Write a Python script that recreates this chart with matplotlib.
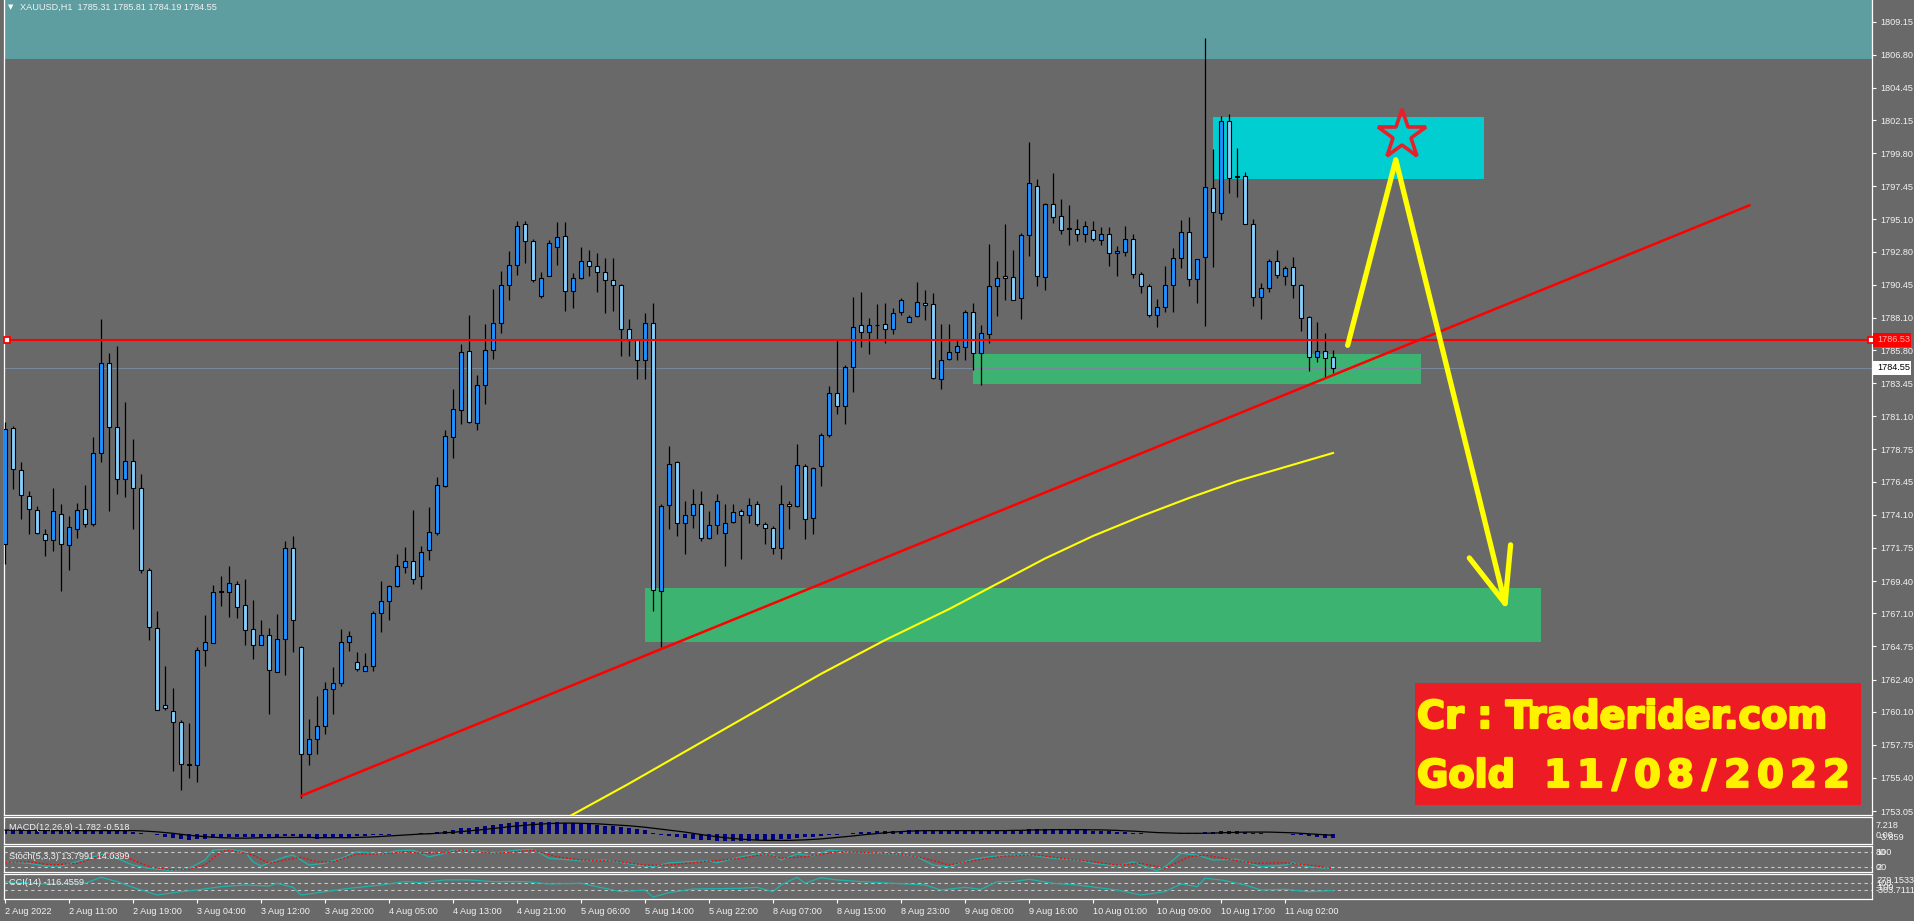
import numpy as np
import matplotlib
matplotlib.use("Agg")
import matplotlib.pyplot as plt
import matplotlib.patheffects as pe
from matplotlib.patches import Rectangle

plt.rcParams["font.family"] = ["Liberation Sans", "DejaVu Sans"]

W, H = 1914, 921
BG = "#696969"

# XAUUSD H1 candles (bar 0 = first visible bar)
opens = [1772.05, 1780.27, 1777.29, 1775.41, 1774.43, 1772.72, 1772.29, 1774.19, 1771.93, 1773.07,
         1774.50, 1773.48, 1778.50, 1784.93, 1780.34, 1776.65, 1777.91, 1776.00, 1770.19, 1766.05,
         1760.58, 1760.19, 1759.38, 1756.36, 1756.29, 1764.50, 1764.98, 1768.62, 1768.65, 1769.22,
         1767.72, 1766.00, 1764.86, 1765.57, 1762.95, 1765.29, 1771.72, 1764.69, 1757.08, 1758.15,
         1759.10, 1761.72, 1762.12, 1765.10, 1763.62, 1763.00, 1763.38, 1767.12, 1767.96, 1769.07,
         1770.43, 1770.81, 1769.79, 1771.57, 1772.84, 1776.17, 1779.67, 1781.53, 1785.72, 1780.62,
         1783.36, 1785.79, 1787.72, 1790.43, 1791.84, 1794.79, 1793.58, 1789.65, 1791.08, 1793.15,
         1793.93, 1790.00, 1790.93, 1792.15, 1791.79, 1791.36, 1790.79, 1790.41, 1787.34, 1786.53,
         1785.10, 1787.76, 1768.67, 1774.79, 1777.84, 1773.50, 1774.07, 1774.86, 1772.48, 1773.36,
         1772.79, 1773.62, 1774.38, 1774.07, 1774.86, 1773.43, 1773.15, 1771.72, 1774.86, 1774.74,
         1777.55, 1773.86, 1777.60, 1779.79, 1782.76, 1781.81, 1784.62, 1787.57, 1787.12, 1787.57,
         1787.67, 1787.29, 1788.50, 1787.79, 1788.24, 1789.14, 1789.10, 1783.79, 1785.17, 1785.65,
         1786.00, 1788.55, 1785.60, 1786.93, 1790.34, 1791.10, 1791.00, 1789.50, 1793.96, 1797.48,
         1791.00, 1796.20, 1795.34, 1794.48, 1794.43, 1794.03, 1794.33, 1793.67, 1794.07, 1792.72,
         1792.81, 1793.72, 1791.24, 1790.38, 1788.29, 1788.91, 1790.41, 1792.36, 1794.22, 1790.86,
         1792.43, 1797.32, 1795.54, 1802.08, 1798.20, 1798.20, 1794.79, 1789.58, 1790.20, 1792.15,
         1791.08, 1791.72, 1790.43, 1788.15, 1785.29, 1785.72, 1785.31]
highs = [1780.70, 1780.40, 1777.84, 1775.81, 1774.74, 1773.07, 1776.00, 1774.86, 1774.03, 1774.98,
         1776.24, 1779.67, 1788.03, 1785.62, 1786.10, 1782.10, 1779.50, 1777.00, 1770.30, 1767.24,
         1763.38, 1761.81, 1759.50, 1759.33, 1764.69, 1767.00, 1769.15, 1769.74, 1770.46, 1769.40,
         1769.57, 1768.07, 1766.65, 1766.05, 1767.07, 1772.24, 1772.60, 1764.80, 1759.62, 1761.24,
         1762.19, 1763.31, 1766.00, 1765.86, 1764.38, 1764.27, 1767.29, 1769.38, 1769.15, 1771.34,
         1771.81, 1774.48, 1771.88, 1774.67, 1776.76, 1780.10, 1783.03, 1786.22, 1788.31, 1784.03,
         1787.67, 1790.17, 1791.46, 1792.89, 1794.96, 1794.96, 1793.72, 1791.38, 1793.62, 1794.89,
         1794.89, 1791.29, 1793.15, 1792.96, 1792.72, 1792.38, 1792.38, 1790.50, 1788.00, 1786.60,
         1788.43, 1789.15, 1774.86, 1779.03, 1777.95, 1775.10, 1775.93, 1775.81, 1774.40, 1775.57,
         1774.86, 1774.86, 1774.50, 1775.33, 1775.10, 1773.60, 1773.31, 1776.24, 1775.10, 1779.15,
         1777.70, 1777.48, 1779.90, 1783.24, 1786.50, 1784.74, 1789.62, 1789.95, 1788.07, 1789.10,
         1789.19, 1788.79, 1789.55, 1788.31, 1790.64, 1790.05, 1789.90, 1787.67, 1787.67, 1786.53,
         1788.67, 1789.15, 1787.60, 1793.38, 1792.17, 1794.74, 1792.95, 1794.10, 1800.57, 1798.00,
         1796.30, 1798.38, 1796.57, 1796.10, 1795.14, 1794.98, 1794.98, 1794.55, 1794.55, 1793.24,
         1794.62, 1794.07, 1791.33, 1790.50, 1789.43, 1791.81, 1793.07, 1795.05, 1795.29, 1792.30,
         1808.00, 1800.07, 1802.42, 1802.58, 1800.17, 1798.50, 1795.15, 1790.58, 1792.31, 1792.96,
         1791.77, 1792.43, 1790.50, 1788.24, 1787.81, 1787.03, 1785.81]
lows = [1770.62, 1775.93, 1773.84, 1772.72, 1772.72, 1771.17, 1771.53, 1768.67, 1770.17, 1772.43,
        1773.24, 1773.29, 1777.84, 1774.38, 1775.57, 1775.34, 1773.07, 1769.98, 1765.22, 1760.22,
        1760.22, 1755.93, 1754.58, 1755.41, 1755.15, 1763.38, 1764.98, 1767.60, 1766.81, 1766.77,
        1764.86, 1763.84, 1764.86, 1759.98, 1762.95, 1762.72, 1764.34, 1753.98, 1756.29, 1757.12,
        1758.55, 1759.98, 1761.96, 1764.43, 1763.00, 1763.00, 1763.00, 1765.77, 1766.62, 1768.96,
        1769.98, 1769.19, 1768.84, 1770.88, 1772.65, 1776.05, 1778.12, 1780.58, 1780.62, 1780.10,
        1781.96, 1785.17, 1787.05, 1789.34, 1791.12, 1792.00, 1790.62, 1789.55, 1791.08, 1791.84,
        1788.60, 1788.77, 1790.86, 1791.05, 1789.91, 1788.48, 1788.60, 1785.38, 1785.38, 1783.79,
        1783.79, 1767.24, 1764.69, 1773.07, 1772.60, 1771.34, 1773.19, 1772.24, 1772.36, 1772.72,
        1770.45, 1773.55, 1770.93, 1773.55, 1773.31, 1772.00, 1771.29, 1771.00, 1773.08, 1774.67,
        1772.36, 1772.76, 1776.17, 1779.62, 1781.29, 1780.57, 1782.84, 1786.05, 1785.55, 1786.53,
        1786.33, 1786.93, 1788.31, 1787.79, 1788.19, 1787.95, 1783.79, 1783.05, 1785.10, 1785.12,
        1785.14, 1784.43, 1783.31, 1786.33, 1788.24, 1789.38, 1789.38, 1788.00, 1792.53, 1790.34,
        1790.10, 1794.86, 1794.03, 1793.26, 1793.55, 1793.48, 1793.60, 1793.31, 1791.76, 1791.10,
        1792.48, 1790.93, 1789.86, 1788.20, 1787.48, 1788.55, 1788.50, 1791.64, 1790.38, 1789.14,
        1787.52, 1791.69, 1795.04, 1796.98, 1796.70, 1794.75, 1788.98, 1788.05, 1789.91, 1790.91,
        1790.41, 1789.48, 1787.20, 1784.34, 1784.98, 1783.86, 1784.19]
closes = [1780.22, 1777.36, 1775.50, 1774.50, 1772.79, 1772.29, 1774.36, 1772.00, 1773.24, 1774.43,
          1773.48, 1778.48, 1784.93, 1780.34, 1776.65, 1777.91, 1776.00, 1770.15, 1766.12, 1760.26,
          1760.34, 1759.38, 1756.36, 1756.31, 1764.50, 1765.05, 1768.62, 1768.67, 1769.29, 1767.55,
          1765.93, 1764.86, 1765.57, 1763.07, 1765.29, 1771.72, 1766.65, 1757.08, 1758.15, 1759.07,
          1761.72, 1762.12, 1765.05, 1765.50, 1763.15, 1763.38, 1767.12, 1768.00, 1769.07, 1770.50,
          1770.81, 1769.57, 1771.48, 1772.90, 1776.22, 1779.72, 1781.62, 1785.65, 1780.69, 1783.36,
          1785.79, 1787.72, 1790.43, 1791.84, 1794.65, 1793.60, 1790.79, 1790.93, 1793.43, 1793.86,
          1790.00, 1790.93, 1792.15, 1791.79, 1791.36, 1790.79, 1790.41, 1787.29, 1786.53, 1785.10,
          1787.76, 1768.79, 1774.74, 1777.71, 1773.50, 1774.07, 1774.86, 1772.48, 1773.36, 1775.10,
          1773.55, 1774.33, 1774.07, 1774.81, 1773.43, 1773.15, 1771.76, 1774.90, 1774.74, 1777.64,
          1773.79, 1777.41, 1779.79, 1782.76, 1781.81, 1784.62, 1787.43, 1787.12, 1787.57, 1787.60,
          1787.29, 1788.48, 1789.38, 1788.19, 1789.22, 1789.02, 1783.86, 1785.14, 1785.65, 1786.10,
          1788.50, 1785.60, 1787.00, 1790.34, 1790.93, 1790.93, 1789.38, 1793.96, 1797.72, 1791.05,
          1796.20, 1795.29, 1794.38, 1794.41, 1794.03, 1794.62, 1793.74, 1794.07, 1792.72, 1792.84,
          1793.72, 1791.24, 1790.38, 1788.29, 1788.91, 1790.41, 1792.36, 1794.22, 1790.86, 1792.29,
          1797.43, 1795.64, 1802.08, 1798.06, 1798.10, 1794.77, 1789.58, 1790.20, 1792.15, 1791.15,
          1791.65, 1790.43, 1788.08, 1785.29, 1785.72, 1785.22, 1784.55]

# moving average (yellow)
ma_bars = [68, 70, 78, 86, 94, 102, 110, 118, 124, 130, 136, 142, 148, 154, 160, 166]
ma_vals = [1751.9, 1752.5, 1755.0, 1757.6, 1760.2, 1762.8, 1765.2, 1767.4, 1769.2, 1771.0,
           1772.6, 1774.0, 1775.3, 1776.5, 1777.5, 1778.5]

# MACD(12,26,9): main (histogram) and signal
macd_main = [1.8, 1.7, 1.6, 1.5, 1.4, 1.3, 1.3, 1.2, 1.2, 1.2, 1.2, 1.3, 1.6, 1.6, 1.4, 1.3,
             1.0, 0.5, -0.1, -0.6, -1.1, -1.6, -2.1, -2.5, -2.2,
             -2.0, -1.7, -1.5, -1.3, -1.2, -1.2, -1.3, -1.4, -1.5, -1.4, -1.0, -1.0,
             -1.5, -1.8, -1.9, -1.8, -1.6, -1.3, -1.1, -1.0, -0.9, -0.6,
             -0.4, -0.2, 0.0, 0.1, 0.2, 0.3, 0.5, 0.9, 1.4, 1.8,
             2.3, 2.6, 2.9, 3.3, 3.7, 4.1, 4.5, 4.9, 5.1, 5.1,
             5.0, 5.0, 4.9, 4.7, 4.5, 4.3, 4.0, 3.7, 3.4, 3.1,
             2.8, 2.4, 2.0, 1.8, 0.6, -0.2, -0.8, -1.3, -1.8, -2.1,
             -2.4, -2.6, -2.7, -2.8, -2.8, -2.8, -2.7, -2.6, -2.5, -2.4,
             -2.2, -2.0, -1.6, -1.4, -1.2, -0.8, -0.5, -0.2, 0.1, 0.4,
             0.7, 0.9, 1.1, 1.2, 1.3, 1.4, 1.5, 1.6, 1.6, 1.3,
             1.3, 1.3, 1.3, 1.4, 1.3, 1.3, 1.5, 1.6, 1.6, 1.5,
             1.7, 2.1, 1.9, 2.0, 2.0, 1.9, 1.8, 1.7, 1.6, 1.4,
             1.3, 1.1, 0.9, 0.8, 0.6, 0.4, 0.2, 0.0, 0.0, 0.2,
             0.4, 0.3, 0.4, 0.8, 0.9, 1.3, 1.3, 1.2, 1.0, 0.6,
             0.3, 0.2, 0.1, 0.0, -0.2, -0.5, -0.9, -1.2, -1.5, -1.782]
macd_signal = [1.6, 1.6, 1.6, 1.5, 1.5, 1.5, 1.4, 1.4, 1.4, 1.4, 1.4, 1.4, 1.4, 1.4, 1.4, 1.4,
               1.4, 1.3, 1.1, 0.9, 0.6, 0.3, -0.1, -0.5, -0.8, -1.1,
               -1.3, -1.5, -1.6, -1.7, -1.7, -1.6, -1.5, -1.5, -1.4, -1.4,
               -1.4, -1.4, -1.4, -1.5, -1.5, -1.5, -1.5, -1.5, -1.4, -1.3,
               -1.2, -1.0, -0.8, -0.6, -0.4, -0.2, 0.0, 0.1, 0.3, 0.5,
               0.7, 1.0, 1.3, 1.6, 1.9, 2.3, 2.6, 3.0, 3.3, 3.6,
               3.9, 4.1, 4.3, 4.4, 4.5, 4.5, 4.4, 4.3, 4.2, 4.0,
               3.8, 3.6, 3.4, 3.1, 2.8, 2.4, 2.0, 1.6, 1.2, 0.8,
               0.3, -0.2, -0.7, -1.1, -1.5, -1.8, -2.1, -2.3, -2.5, -2.6,
               -2.6, -2.6, -2.6, -2.5, -2.4, -2.2, -2.0, -1.7, -1.4, -1.1,
               -0.8, -0.4, -0.1, 0.2, 0.5, 0.8, 1.0, 1.2, 1.3, 1.4,
               1.4, 1.4, 1.4, 1.4, 1.4, 1.4, 1.4, 1.4, 1.4, 1.4,
               1.5, 1.5, 1.6, 1.7, 1.7, 1.8, 1.8, 1.8, 1.8, 1.8,
               1.7, 1.7, 1.6, 1.5, 1.3, 1.2, 1.0, 0.8, 0.6, 0.5,
               0.4, 0.3, 0.3, 0.3, 0.3, 0.4, 0.5, 0.6, 0.7, 0.8,
               0.8, 0.8, 0.8, 0.7, 0.6, 0.5, 0.3, 0.1, -0.1, -0.3, -0.518]

# Stochastic(5,3,3)
stoch_k_bars = [0, 3, 5, 7, 9, 11, 13, 14, 16, 18, 21, 23, 25, 26, 28, 30, 31, 32, 35, 36, 38, 40, 42, 44,
                47, 49, 51, 53, 55, 56, 59, 61, 64, 66, 68, 72, 75, 79, 81, 83, 85, 88, 89, 92, 94, 96,
                97, 99, 101, 103, 106, 109, 112, 114, 116, 118, 121, 123, 125, 128, 131, 134, 136, 139,
                141, 142, 144, 145, 147, 149, 151, 154, 157, 160, 161, 163, 166]
stoch_k_vals = [42, 36, 25, 25, 42, 62, 76, 56, 29, 16, 6, 16, 49, 89, 92, 82, 42, 25, 62, 69, 29, 36, 56, 82,
                73, 86, 89, 62, 76, 89, 86, 76, 89, 92, 56, 46, 49, 29, 22, 38, 42, 46, 38, 62, 73, 69,
                49, 73, 65, 89, 80, 76, 72, 62, 29, 22, 52, 62, 68, 69, 56, 49, 36, 25,
                42, 29, 6, 22, 76, 69, 49, 52, 22, 29, 38, 22, 13.8]
stoch_d_bars = [0, 3, 6, 9, 12, 14, 16, 18, 21, 23, 25, 27, 28, 31, 33, 35, 37, 39, 41, 44, 47, 50, 52, 55,
                57, 61, 64, 66, 69, 72, 76, 80, 83, 87, 92, 95, 97, 100, 104, 107, 112, 115, 118, 122,
                125, 129, 132, 135, 139, 142, 145, 148, 150, 153, 156, 160, 164, 166]
stoch_d_vals = [40, 42, 29, 36, 65, 76, 49, 22, 9, 13, 29, 82, 89, 69, 36, 49, 60, 42, 42, 73, 73, 82, 76, 78,
                89, 76, 82, 89, 62, 49, 45, 29, 29, 42, 56, 73, 56, 62, 82, 80, 73, 56, 29, 52,
                65, 69, 56, 46, 29, 36, 16, 62, 69, 52, 36, 38, 25, 14.0]

# CCI(14)
cci_bars = [0, 5, 10, 12, 14, 16, 19, 22, 24, 27, 30, 33, 34, 36, 37, 40, 43, 47, 50, 52, 55, 58, 61, 65,
            68, 72, 75, 77, 80, 81, 83, 86, 92, 94, 96, 97, 99, 100, 102, 104, 107, 111, 115, 117, 120,
            122, 124, 126, 128, 131, 134, 139, 142, 145, 147, 149, 150, 152, 155, 157, 160, 163, 166]
cci_vals = [150, 80, 100, 280, 150, -20, -250, -150, -100, 0, 50, 20, 100, -20, -250, -150, -50, 50, 150,
            120, 200, 200, 150, 150, 80, 100, -50, -150, -100, -310, -180, -70, -50, -20, -150, 50, 280,
            100, 270, 200, 150, 100, 50, -100, -20, -80, 150, 150, 220, 100, 50, -100, -250, -150, 80, 0,
            250, 200, 50, -100, -80, -150, -116]

# axis labels
price_ticks = [1809.15, 1806.80, 1804.45, 1802.15, 1799.80, 1797.45, 1795.10, 1792.80, 1790.45,
               1788.10, 1785.80, 1783.45, 1781.10, 1778.75, 1776.45, 1774.10, 1771.75, 1769.40,
               1767.10, 1764.75, 1762.40, 1760.10, 1757.75, 1755.40, 1753.05]
time_labels = ["2 Aug 2022", "2 Aug 11:00", "2 Aug 19:00", "3 Aug 04:00", "3 Aug 12:00", "3 Aug 20:00",
               "4 Aug 05:00", "4 Aug 13:00", "4 Aug 21:00", "5 Aug 06:00", "5 Aug 14:00", "5 Aug 22:00",
               "8 Aug 07:00", "8 Aug 15:00", "8 Aug 23:00", "9 Aug 08:00", "9 Aug 16:00", "10 Aug 01:00",
               "10 Aug 09:00", "10 Aug 17:00", "11 Aug 02:00"]
time_bars = list(range(0, 8 * len(time_labels), 8))

# drawn objects (bar index / price)
hline_price = 1786.53
bid_price = 1784.55
trend_x = [37.06, 218.04]
trend_y = [1754.14, 1796.10]
supply_top = 1806.50
cyan_zone = (151.0, 184.9, 1797.95, 1802.35)
green_zone_hi = (121.0, 177.0, 1783.40, 1785.50)
green_zone_lo = (80.0, 192.0, 1765.04, 1768.87)
arrow_x = [167.83, 173.85, 187.51]
arrow_y = [1786.15, 1799.34, 1767.80]
head_x = [183.04, 187.51, 188.20]
head_y = [1771.04, 1767.80, 1771.97]
star_xy = (174.6, 1801.07)

FS = 6.6
TXT = "#F2F2F2"


def fx(x):
    return x / W


def fy(y):
    return 1 - y / H


def panel(top, bottom):
    return [4 / W, 1 - bottom / H, 1868 / W, (bottom - top) / H]


fig = plt.figure(figsize=(W / 100, H / 100), dpi=100, facecolor=BG)
ax = fig.add_axes(panel(0, 815))
ax_macd = fig.add_axes(panel(817, 844))
ax_st = fig.add_axes(panel(846, 872))
ax_cci = fig.add_axes(panel(874, 899))

xlim = (-0.125, 233.375)
for a in (ax, ax_macd, ax_st, ax_cci):
    a.set_facecolor(BG)
    a.set_xlim(*xlim)
    for s in a.spines.values():
        s.set_color("white")
        s.set_linewidth(0.9)
    a.set_xticks([])
    a.set_yticks([])
ax.spines["top"].set_visible(False)

# ---- main price panel ----
ax.set_ylim(1752.77, 1810.695)
ax.axhspan(supply_top, 1815, color="#5F9EA0", zorder=0, lw=0)
for (x0, x1, y0, y1), col in [(cyan_zone, "#00CED1"), (green_zone_hi, "#3CB371"), (green_zone_lo, "#3CB371")]:
    ax.add_patch(Rectangle((x0, y0), x1 - x0, y1 - y0, facecolor=col, edgecolor="none", zorder=1))
ax.axhline(bid_price, color="#778899", lw=0.8, zorder=1.5)

o = np.array(opens)
h = np.array(highs)
l = np.array(lows)
c = np.array(closes)
x = np.arange(len(o))
up = c >= o
ax.vlines(x, l, h, color="black", lw=0.9, zorder=3)
ax.bar(x, np.maximum(np.abs(c - o), 0.06), 0.62, bottom=np.minimum(o, c),
       color=np.where(up, "#1E90FF", "#87CEFA"), edgecolor="black", linewidth=0.8, zorder=4)

ax.plot(ma_bars, ma_vals, color="#FFFF00", lw=1.5, zorder=5)
ax.plot(trend_x, trend_y, color="#FF0000", lw=1.8, zorder=5)
ax.axhline(hline_price, color="#FF0000", lw=1.5, zorder=5)
ax.plot([0.2, xlim[1] - 0.1], [hline_price] * 2, ls="none", marker="s", ms=4.5,
        mfc="white", mec="#FF0000", mew=1.3, zorder=6, clip_on=False)

ax.yaxis.tick_right()
ax.set_yticks(price_ticks)
ax.set_yticklabels([f"{v:.2f}" for v in price_ticks])
ax.tick_params(axis="y", colors="white", labelcolor=TXT, length=3, width=0.8, pad=3, labelsize=FS)

# overlay drawings
ax.plot(arrow_x, arrow_y, color="#FFFF00", lw=3.8, solid_capstyle="round", solid_joinstyle="round", zorder=7)
ax.plot(head_x, head_y, color="#FFFF00", lw=3.8, solid_capstyle="round", solid_joinstyle="round", zorder=7)
ax.plot(*star_xy, marker="*", ms=37, mfc="none", mec="#E8202A", mew=2.6, zorder=8)

# price tags on the right scale
fig.add_artist(Rectangle((fx(1873), fy(347)), fx(38), 14 / H, transform=fig.transFigure,
                         facecolor="#FF0000", edgecolor="none"))
fig.text(fx(1877), fy(340), f"{hline_price:.2f}", color="#FFB0B0", fontsize=FS, va="center")
fig.add_artist(Rectangle((fx(1873), fy(375)), fx(38), 14 / H, transform=fig.transFigure,
                         facecolor="white", edgecolor="none"))
fig.text(fx(1877), fy(368), f"{bid_price:.2f}", color="black", fontsize=FS, va="center")

fig.text(fx(8), fy(7), "\u25bc", color="white", fontsize=5, va="center", family=["DejaVu Sans"])
fig.text(fx(20), fy(7), "XAUUSD,H1  1785.31 1785.81 1784.19 1784.55", color=TXT, fontsize=FS, va="center")

# ---- MACD ----
ax_macd.set_ylim(-4.1, 7.0)
ax_macd.bar(x, macd_main, 0.4, color="#000080", zorder=2)
ax_macd.plot(x, macd_signal, color="black", lw=0.9, zorder=3)
fig.text(fx(9), fy(827), "MACD(12,26,9) -1.782 -0.518", color=TXT, fontsize=FS, va="center")
fig.text(fx(1876), fy(825), "7.218", color=TXT, fontsize=FS, va="center")
fig.text(fx(1876), fy(835), "0.00", color=TXT, fontsize=FS, va="center")
fig.text(fx(1879), fy(837), "-3.859", color=TXT, fontsize=FS, va="center")

# ---- Stochastic ----
ax_st.set_ylim(1.2, 105.2)
for lv in (80, 20):
    ax_st.axhline(lv, color="#C8C8C8", lw=0.8, ls=(0, (3, 3)))
ax_st.plot(stoch_k_bars, stoch_k_vals, color="#20B2AA", lw=0.9)
ax_st.plot(stoch_d_bars, stoch_d_vals, color="#FF0000", lw=0.9, ls=(0, (1.5, 1.5)))
fig.text(fx(9), fy(856), "Stoch(5,3,3) 13.7991 14.0399", color=TXT, fontsize=FS, va="center")
for txt, yy in [("80", 852), ("100", 852), ("20", 867), ("0", 867)]:
    fig.text(fx(1876), fy(yy), txt, color=TXT, fontsize=FS, va="center")

# ---- CCI ----
ax_cci.set_ylim(-368.7, 377.6)
for lv in (100, -100):
    ax_cci.axhline(lv, color="#C8C8C8", lw=0.8, ls=(0, (3, 3)))
ax_cci.plot(cci_bars, cci_vals, color="#20B2AA", lw=0.9)
fig.text(fx(9), fy(882), "CCI(14) -116.4559", color=TXT, fontsize=FS, va="center")
for txt, yy in [("279.1533", 880), ("100", 883), ("-100", 887), ("-303.7111", 890)]:
    fig.text(fx(1876), fy(yy), txt, color=TXT, fontsize=FS, va="center")

ax_cci.set_xticks(time_bars)
ax_cci.set_xticklabels(time_labels, ha="left")
ax_cci.tick_params(axis="x", colors="white", labelcolor=TXT, length=3, width=0.8, pad=3, labelsize=FS)

# ---- watermark box ----
fig.add_artist(Rectangle((fx(1415), fy(805)), fx(446), 122 / H, transform=fig.transFigure,
                         facecolor="#ED1C24", edgecolor="none"))
heavy = [pe.withStroke(linewidth=1.6, foreground="#FFF200")]
big = dict(color="#FFF200", fontsize=27.5, fontweight="bold", family=["DejaVu Sans"],
           va="baseline", path_effects=heavy)
fig.text(fx(1417), fy(728), "Cr : Traderider.com", **big)
fig.text(fx(1417), fy(787), "Gold", **big)
# the date is set wider than the font allows, one glyph per cell
cx = 1541
for ch in "11/08/2022":
    cw = 24 if ch == "/" else 33
    fig.text(fx(cx + cw / 2), fy(787), ch, ha="center", **big)
    cx += cw

fig.savefig("out.png", dpi=100, facecolor=BG)
